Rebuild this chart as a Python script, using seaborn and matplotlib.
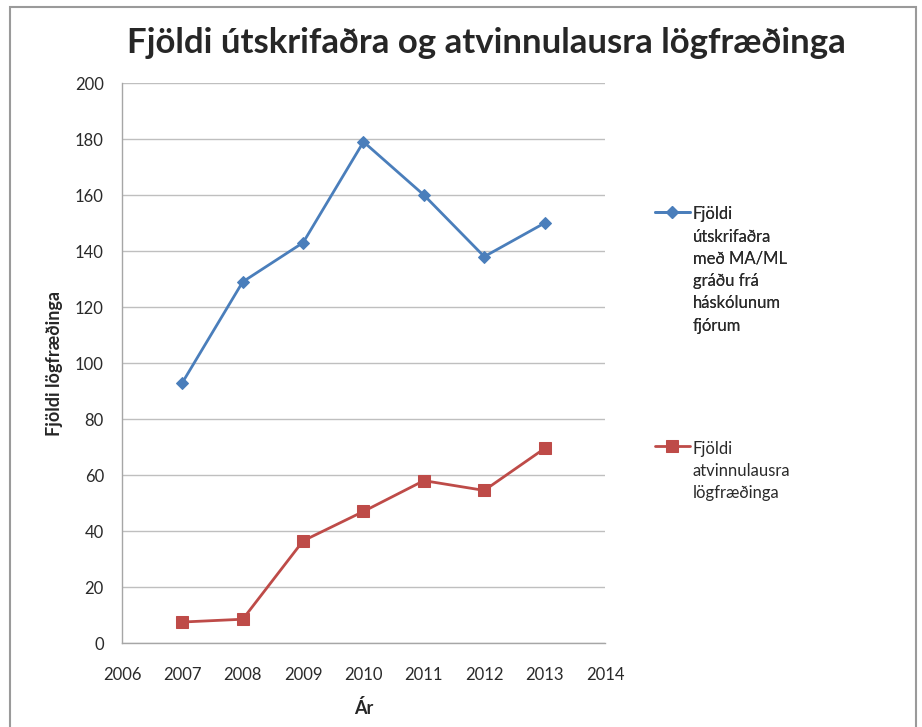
import matplotlib
matplotlib.use("Agg")
import matplotlib.pyplot as plt
import seaborn as sns
import pandas as pd
from matplotlib.patches import Rectangle

years = [2007, 2008, 2009, 2010, 2011, 2012, 2013]
graduates = [93, 129, 143, 179, 160, 138, 150]
unemployed = [7.5, 8.5, 36.5, 47, 58, 54.5, 69.5]

label_grad = "Fjöldi\nútskrifaðra\nmeð MA/ML\ngráðu frá\nháskólunum\nfjórum"
label_unemp = "Fjöldi\natvinnulausra\nlögfræðinga"

x_ticks = list(range(2006, 2015))
y_ticks = list(range(0, 201, 20))

sns.set_style("white")
plt.rcParams["font.family"] = ["Lato", "DejaVu Sans"]

df = pd.DataFrame({"year": years, "grad": graduates, "unemp": unemployed})

fig = plt.figure(figsize=(9.22, 7.27), dpi=100)
ax = fig.add_axes([0.1323, 0.1155, 0.5239, 0.7703])

sns.lineplot(data=df, x="year", y="grad", ax=ax, color="#4A7EBB", lw=2,
             marker="D", markersize=6, markeredgecolor="#4A7EBB", label=label_grad)
sns.lineplot(data=df, x="year", y="unemp", ax=ax, color="#BE4B48", lw=2,
             marker="s", markersize=8, markeredgecolor="#BE4B48", label=label_unemp)

ax.set_xlim(2006, 2014)
ax.set_ylim(0, 200)
ax.set_xticks(x_ticks)
ax.set_yticks(y_ticks)
ax.tick_params(axis="both", labelsize=12, colors="#2a2a2a", length=0)
ax.tick_params(axis="x", pad=17)
ax.tick_params(axis="y", pad=13)
ax.yaxis.grid(True, color="#BFBFBF", lw=1)
ax.xaxis.grid(False)
for s in ["top", "right"]:
    ax.spines[s].set_visible(False)
for s in ["left", "bottom"]:
    ax.spines[s].set_color("#A6A6A6")
    ax.spines[s].set_linewidth(1)

ax.set_xlabel("Ár", fontsize=13, fontweight="bold", labelpad=12)
ax.set_ylabel("Fjöldi lögfræðinga", fontsize=13, fontweight="bold", labelpad=9)

fig.text(0.528, 0.941, "Fjöldi útskrifaðra og atvinnulausra lögfræðinga",
         ha="center", va="center", fontsize=25, fontweight="bold")

handles, labels = ax.get_legend_handles_labels()
ax.get_legend().remove()
leg1 = fig.legend([handles[0]], [labels[0]], loc="upper left",
                  bbox_to_anchor=(0.710, 0.716), frameon=False, fontsize=12,
                  handlelength=2.1, handletextpad=0.2, borderpad=0, borderaxespad=0)
fig.add_artist(leg1)
leg2 = fig.legend([handles[1]], [labels[1]], loc="upper left",
                  bbox_to_anchor=(0.710, 0.394), frameon=False, fontsize=12,
                  handlelength=2.1, handletextpad=0.2, borderpad=0, borderaxespad=0)
for leg in (leg1, leg2):
    for t in leg.get_texts():
        t.set_linespacing(1.48)
        t.set_color("#2a2a2a")
    # put the key next to the first line of the label, as Excel does
    for col in leg._legend_handle_box.get_children():
        for item in col.get_children():
            item.align = "top"

fig.patches.append(Rectangle((10 / 922, -0.05), 906 / 922, 1.04, transform=fig.transFigure,
                             fill=False, edgecolor="#9A9A9A", lw=1.5))

fig.savefig("out.png", dpi=100)
